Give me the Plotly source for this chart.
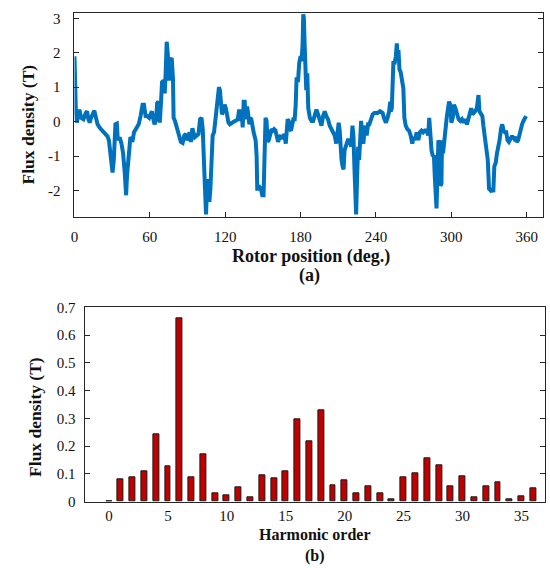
import plotly.graph_objects as go

# ---- (a) flux density vs rotor position ----
rotor_deg = [0.0, 0.5, 1.05, 1.84, 3.16, 3.95, 5.26, 7.11, 8.95, 10.0, 11.05, 12.1, 13.16, 14.2, 15.8, 16.8,
             18.4, 20.3, 22.9, 26.3, 27.4, 28.7, 29.5, 30.3, 31.3, 32.6, 33.7, 34.5, 35.3, 36.3, 37.4, 38.7,
             40.0, 41.1, 41.8, 42.6, 43.4, 44.5, 45.3, 46.1, 47.4, 49.2, 51.1, 52.6, 54.2, 55.3, 56.6, 57.9,
             59.5, 60.5, 61.6, 62.6, 63.7, 65.0, 65.8, 66.8, 67.9, 68.9, 69.7, 70.8, 71.8, 72.6, 73.4, 74.2,
             75.0, 75.5, 76.6, 77.4, 78.4, 78.9, 80.0, 81.1, 82.6, 84.7, 86.1, 87.4, 88.7, 89.5, 90.5, 91.6,
             92.6, 93.4,
             93.9, 94.7, 95.8, 97.4, 98.7, 100.0, 101.1, 102.1, 103.2, 103.9, 104.7, 105.8, 106.6, 107.4, 108.2,
             108.9, 110.0, 111.1, 112.1, 113.2, 114.2, 115.0, 115.8, 116.3, 117.4, 118.4, 119.5, 120.5, 121.6,
             122.6, 123.7, 125.0, 126.8, 128.9, 130.0, 131.1, 132.1, 132.9, 133.9, 134.7, 135.5, 136.3, 137.4,
             138.2, 139.2, 140.0, 140.8, 142.6, 144.2, 145.0, 145.5, 146.6, 147.6, 148.4, 149.5, 150.5, 151.3,
             152.1, 152.9, 153.7, 154.7, 155.8, 156.8, 157.9, 158.9, 160.0, 161.1, 162.1, 163.2, 164.2, 165.3,
             166.3, 167.1, 168.2, 168.9, 169.7, 170.5, 171.3, 172.4, 173.4, 174.2, 175.3, 176.1, 176.8, 177.9,
             178.9, 180.0, 180.8, 181.6, 182.1, 182.6, 183.2, 183.7, 184.5, 185.3, 186.1,
             187.4, 188.7, 190.0, 191.3, 192.6, 193.9, 195.3, 196.6, 197.9, 199.2, 200.5, 201.8, 203.2, 205.3,
             207.1, 208.4, 209.2, 210.3, 211.1, 211.8, 212.6, 213.4, 214.2, 215.0, 216.1, 217.6, 218.9, 220.3,
             221.3, 222.1, 222.9, 223.7, 224.2, 225.0, 225.8, 226.6, 227.4, 228.2, 229.0, 230.0, 230.8, 231.6,
             232.6, 233.7, 234.7, 236.1, 237.4, 238.7, 240.0, 241.3, 243.2, 245.3, 246.3, 247.9, 249.2, 250.5,
             251.3, 251.8, 252.6, 253.2, 253.9, 254.7, 255.8, 256.6, 257.4, 257.9, 258.7, 259.7, 261.1, 261.8,
             262.6, 263.7, 265.0, 266.3, 267.6, 268.9, 270.0, 271.1, 272.4, 273.7, 275.0, 276.3, 277.6, 278.9,
             280.3, 281.6, 282.4,
             283.2, 284.2, 285.3, 286.1, 286.8, 287.6, 288.2, 288.9, 289.7, 290.5, 291.3, 292.1, 292.6, 293.4,
             294.2, 295.3, 296.3, 297.4, 298.2, 299.2, 300.0, 301.1, 302.1, 303.2, 304.5, 305.8, 307.1, 308.4,
             309.7, 311.1, 312.4, 313.7, 315.0, 315.8, 316.8, 317.9, 318.9, 320.3, 321.1, 321.6, 322.4, 323.4,
             324.7, 325.5, 326.8, 328.2, 329.0, 330.0, 331.3, 332.4, 333.4, 334.2, 335.3, 336.3, 337.4, 338.4,
             339.5, 340.5, 341.6, 342.6, 343.7, 344.7, 345.8, 346.8, 347.9, 348.9, 350.0, 351.1, 352.1, 353.2,
             354.2, 355.3, 356.3, 357.4, 358.4, 359.5]

flux_T = [1.90, 0.96, 0.35, -0.03, 0.21, 0.35, 0.11, 0.07, 0.25, 0.30, 0.07, -0.03, 0.11, 0.21, 0.32, 0.16,
          -0.08, -0.19, -0.31, -0.43, -0.54, -0.92, -1.30, -1.48, -1.11, -0.08, -0.06, -0.54, -0.50, -0.50, -0.64, -0.92,
          -1.48, -2.14, -1.58, -1.11, -0.92, -0.45, -0.50, -0.59, -0.31, -0.22, -0.08, 0.16, 0.49, 0.49, 0.16, 0.16,
          0.11, 0.21, 0.30, 0.11, -0.08, 0.07, 0.54, 0.58, -0.03, 0.58, 1.15, 1.19, 0.82, 1.43, 2.32, 1.99,
          1.29, 1.19, 1.80, 1.85, 1.24, 0.11, 0.02, -0.12, -0.31, -0.59, -0.62, -0.40, -0.36, -0.54, -0.45, -0.31,
          -0.59, -0.22,
          -0.19, -0.31, -0.45, -0.40, -0.36, 0.07, 0.11, -0.22, -1.01, -1.95, -2.70, -1.67, -1.95, -2.33, -1.95,
          -1.11, -0.40, -0.31, 0.02, 0.30, 0.58, 1.00, 0.91, 0.49, 0.21, 0.30, 0.49, 0.39, 0.16,
          -0.03, -0.08, -0.03, 0.00, 0.04, 0.07, 0.35, 0.02, 0.35, -0.17, 0.58, 0.58, 0.07, 0.44,
          0.25, -0.08, 0.11, 0.07, -0.31, -0.54, -1.01, -1.95, -1.95, -1.91, -1.95, -2.14, -2.14, -1.30,
          0.11, 0.02, -0.59, -0.54, -0.40, -0.22, -0.26, -0.22, -0.26, -0.54, -0.59, -0.45, -0.40, -0.50,
          -0.40, -0.36, -0.64, -0.31, 0.07, 0.02, -0.22, -0.26, -0.08, 0.07, 0.07, 0.49, 1.29, 1.15,
          1.71, 1.90, 1.76, 2.27, 3.12, 3.02, 2.27, 0.96, 0.91, 1.40, 0.39,
          0.11, 0.02, 0.02, 0.21, 0.35, 0.21, 0.07, -0.12, 0.16, 0.30, 0.16, 0.07, -0.12, -0.26,
          -0.40, -0.64, -0.45, -0.03, -0.26, -0.92, -1.11, -1.30, -1.39, -0.83, -0.73, -0.54, -0.54, -0.73,
          -0.12, -0.45, -1.39, -2.33, -2.70, -1.58, -0.73, -1.11, -0.36, 0.02, -0.54, -0.64, -0.26, -0.12,
          -0.40, -0.08, -0.08, 0.07, 0.21, 0.25, 0.25, 0.25, 0.30, 0.25, 0.11, -0.03, 0.11, 0.30,
          0.58, 0.30, 0.39, 0.96, 1.76, 1.66, 1.90, 2.27, 1.80, 2.08, 1.52, 1.43, 1.15, 0.96,
          0.11, -0.12, -0.22, -0.26, -0.40, -0.64, -0.45, -0.54, -0.31, -0.54, -0.31, -0.26, -0.31, -0.26,
          -0.26, -0.40, 0.11,
          -0.45, -0.83, -1.01, -0.97, -1.58, -2.23, -2.52, -1.58, -0.54, -0.64, -1.86, -1.81, -0.54, -0.92,
          -0.54, -0.22, 0.11, 0.39, 0.58, 0.49, -0.03, 0.11, 0.49, 0.39, 0.21, 0.07, 0.02, 0.07,
          -0.03, 0.07, -0.08, 0.07, 0.30, 0.39, 0.21, 0.25, 0.30, 0.39, 0.72, 0.77, 0.30, 0.25,
          0.16, -0.12, -0.45, -0.73, -1.11, -1.95, -2.00, -1.95, -2.05, -1.30, -1.20, -0.92, -0.73, -0.54,
          -0.22, -0.08, -0.26, -0.31, -0.31, -0.54, -0.59, -0.50, -0.45, -0.45, -0.50, -0.45, -0.59, -0.54,
          -0.36, -0.17, -0.08, 0.02, 0.07, 0.16]

rotor_ticks = [0, 60, 120, 180, 240, 300, 360]
flux_ticks = [-2, -1, 0, 1, 2, 3]

# ---- (b) harmonic spectrum ----
harmonic_order = list(range(37))
harmonic_amp = [0.003, 0.082, 0.089, 0.109, 0.242, 0.128, 0.662, 0.087, 0.170, 0.031, 0.023, 0.052, 0.016,
                0.094, 0.085, 0.109, 0.298, 0.219, 0.329, 0.058, 0.076, 0.031, 0.055, 0.029, 0.009, 0.087,
                0.101, 0.157, 0.132, 0.056, 0.090, 0.017, 0.057, 0.068, 0.010, 0.019, 0.047]
order_ticks = [0, 5, 10, 15, 20, 25, 30, 35]
amp_ticks = [0, 0.1, 0.2, 0.3, 0.4, 0.5, 0.6, 0.7]

W, H = 550, 568
FONT = "Liberation Serif"
AX = "#262626"

fig = go.Figure()
fig.add_trace(go.Scatter(x=rotor_deg, y=flux_T, mode="lines",
                         line=dict(color="#0072BD", width=4), xaxis="x", yaxis="y",
                         showlegend=False))
fig.add_trace(go.Bar(x=harmonic_order, y=harmonic_amp, width=0.5,
                     marker=dict(color="#C00000", line=dict(color="#1a1a1a", width=1)),
                     xaxis="x2", yaxis="y2", showlegend=False))

tickfont = dict(family=FONT, size=15, color="#111111")
common = dict(showgrid=False, zeroline=False, showline=True, linecolor=AX, linewidth=1,
              tickfont=tickfont, tickcolor=AX)

fig.update_layout(
    width=W, height=H, margin=dict(l=0, r=0, t=0, b=0),
    paper_bgcolor="white", plot_bgcolor="white",
    xaxis=dict(domain=[71 / W, 543 / W], range=[0, 373], anchor="y",
               tickvals=rotor_ticks, ticktext=[str(v) for v in rotor_ticks],
               ticks="inside", ticklen=5, mirror=True, ticklabelstandoff=6, **common),
    yaxis=dict(domain=[1 - 215 / H, 1 - 5 / H], range=[-2.77, 3.16], anchor="x",
               tickvals=flux_ticks, ticktext=[str(v) for v in flux_ticks],
               ticks="inside", ticklen=5, mirror="allticks", ticklabelstandoff=10, **common),
    xaxis2=dict(domain=[82 / W, 545 / W], range=[-2, 37], anchor="y2",
                tickvals=order_ticks, ticktext=[str(v) for v in order_ticks],
                ticks="", mirror=True, ticklabelstandoff=0, **common),
    yaxis2=dict(domain=[1 - 508 / H, 1 - 308 / H], range=[0, 0.7], anchor="x2",
                tickvals=amp_ticks, ticktext=["0", "0.1", "0.2", "0.3", "0.4", "0.5", "0.6", "0.7"],
                ticks="inside", ticklen=5, mirror="allticks", ticklabelstandoff=6, **common),
    bargap=0,
)


def ann(text, px, py, size, angle=0):
    fig.add_annotation(text=text, x=px / W, y=1 - py / H, xref="paper", yref="paper",
                       showarrow=False, textangle=angle, borderpad=0,
                       font=dict(family=FONT, size=size, color="#111111"),
                       xanchor="center", yanchor="middle")


ann("<b>Flux density (T)</b>", 24, 120, 17.5, -90)
ann("<b>Rotor position (deg.)</b>", 309, 256, 18)
ann("<b>(a)</b>", 308, 275, 18)
ann("<b>Flux density (T)</b>", 31, 421, 17.5, -90)
ann("<b>Harmonic order</b><br><b>(b)</b>", 313, 553, 16)

fig.write_html("out.html")
